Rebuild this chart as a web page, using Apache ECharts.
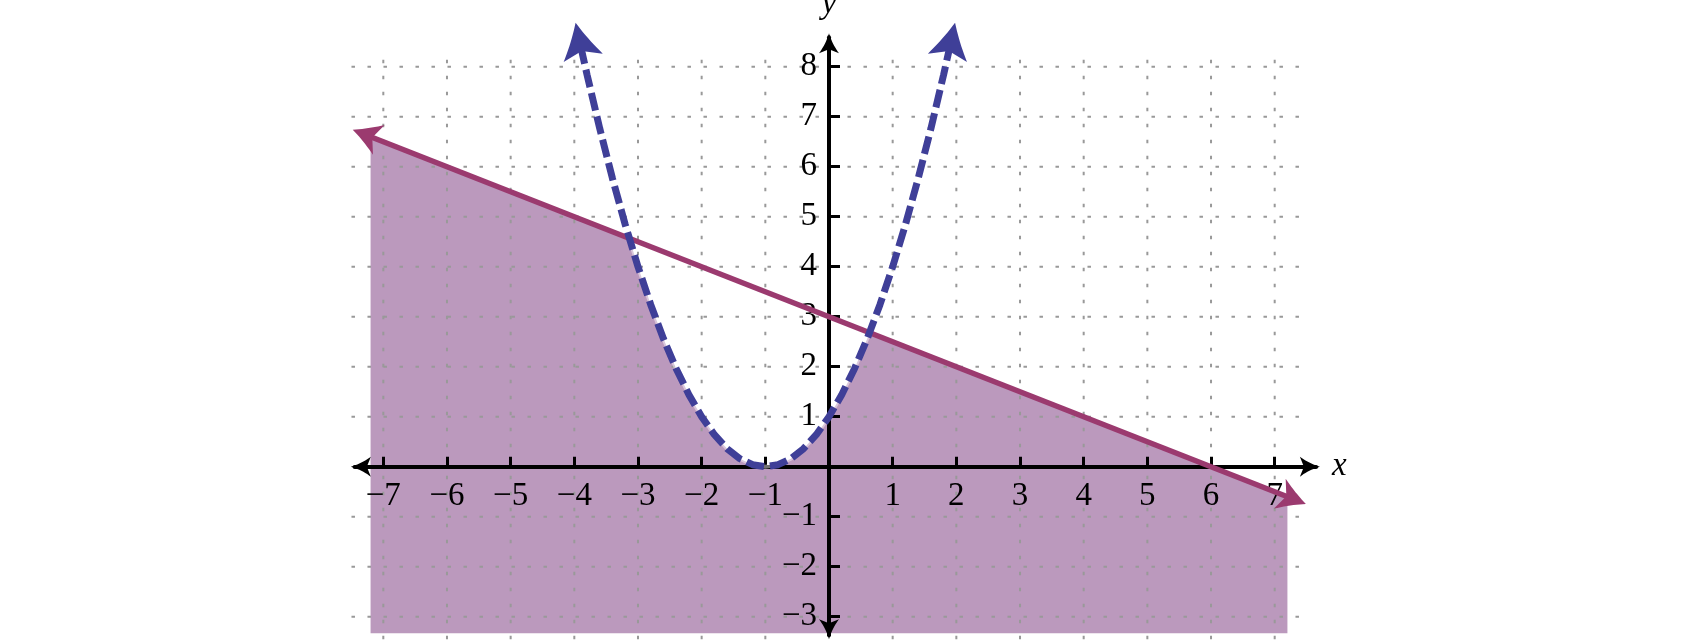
<!DOCTYPE html>
<html><head><meta charset="utf-8">
<script src="https://cdn.jsdelivr.net/npm/echarts@6/dist/echarts.min.js"></script>
<style>html,body{margin:0;padding:0;background:#fff}#c{width:1700px;height:640px}</style>
</head><body><div id="c"></div>
<script>
// ---- data ----
const X_TICKS = [-7, -6, -5, -4, -3, -2, -1, 1, 2, 3, 4, 5, 6, 7];
const Y_TICKS = [-3, -2, -1, 1, 2, 3, 4, 5, 6, 7, 8];
const X_RANGE = [-7.45, 7.65];
const Y_RANGE = [-3.37, 8.59];
const GRID_X_SPAN = [-7.5, 7.5];
const GRID_Y_SPAN = [-3.45, 8.3];
// boundary line y = -x/2 + 3
const LINE_PTS = [[-7.3, 6.65], [7.3, -0.65]];
const LINE_ARROWS = [[-7.48, 6.74, -7.2, 6.6], [7.49, -0.745, 7.2, -0.6]];
// dashed parabola y = (x+1)^2
const PARAB_X = [-3.9, -3.8, -3.6, -3.4, -3.2, -3.0, -2.8, -2.6, -2.4, -2.2, -2.0, -1.8, -1.6, -1.4, -1.2, -1.0,
  -0.8, -0.6, -0.4, -0.2, 0, 0.2, 0.4, 0.6, 0.8, 1.0, 1.2, 1.4, 1.6, 1.8, 1.9];
const PARAB_Y = [8.41, 7.84, 6.76, 5.76, 4.84, 4, 3.24, 2.56, 1.96, 1.44, 1, 0.64, 0.36, 0.16, 0.04, 0,
  0.04, 0.16, 0.36, 0.64, 1, 1.44, 1.96, 2.56, 3.24, 4, 4.84, 5.76, 6.76, 7.84, 8.41];
const PARAB_ARROWS = [[-3.98, 8.8804, -3.9, 8.41], [1.98, 8.8804, 1.9, 8.41]];
const AXIS_ARROWS = [[-7.51, 0, -7.3, 0], [7.71, 0, 7.5, 0], [0, 8.67, 0, 8.4], [0, -3.45, 0, -3.2]];
// shaded region
const FILL_CORNERS = [[-7.2, -3.33], [-7.2, 6.6], [7.2, -0.6], [7.2, -3.33]];
const CROSSINGS = [[-3.1375, 4.569], [0.6375, 2.681]];

// ---- styles ----
const C_LINE = '#9b3a6f', C_PARAB = '#3f3f98', C_FILL = '#bb99bd', C_GRID = '#999999';
const FONT = '"Liberation Serif", "Times New Roman", Times, serif';
const FS = 33;

const fillPoly = [FILL_CORNERS[0], FILL_CORNERS[1], CROSSINGS[0]];
PARAB_X.forEach((x, i) => { if (x > CROSSINGS[0][0] && x < CROSSINGS[1][0]) fillPoly.push([x, PARAB_Y[i]]); });
fillPoly.push(CROSSINGS[1], FILL_CORNERS[2], FILL_CORNERS[3]);

const gridLines = [];
Y_TICKS.forEach(y => gridLines.push([GRID_X_SPAN[0], y, GRID_X_SPAN[1], y]));
X_TICKS.forEach(x => gridLines.push([x, GRID_Y_SPAN[0], x, GRID_Y_SPAN[1]]));

function makeArrow(color, L, W, N, cu, cv) {
  return function (params, api) {
    const t = api.coord([api.value(0), api.value(1)]);
    const f = api.coord([api.value(2), api.value(3)]);
    let dx = t[0] - f[0], dy = t[1] - f[1];
    const len = Math.hypot(dx, dy) || 1; dx /= len; dy /= len;
    const nx = -dy, ny = dx;
    const P = (u, v) => [t[0] - dx * u + nx * v, t[1] - dy * u + ny * v];
    const side = [];
    const a = [0, 0], c = [cu * L, cv * W], b = [L, W];
    for (let i = 0; i <= 10; i++) {
      const k = i / 10;
      side.push([(1 - k) * (1 - k) * a[0] + 2 * (1 - k) * k * c[0] + k * k * b[0],
                 (1 - k) * (1 - k) * a[1] + 2 * (1 - k) * k * c[1] + k * k * b[1]]);
    }
    const pts = side.map(p => P(p[0], p[1]));
    pts.push(P(N, 0));
    for (let i = side.length - 1; i >= 1; i--) pts.push(P(side[i][0], -side[i][1]));
    return { type: 'polygon', shape: { points: pts }, style: { fill: color } };
  };
}

const fmt = v => String(v).replace('-', '\u2212');

const chart = echarts.init(document.getElementById('c'), null, { renderer: 'canvas' });
const sx = 63.67, sy = 50, x0 = 829, y0 = 466.7;
const hiddenLabel = { show: false };
chart.setOption({
  animation: false,
  backgroundColor: '#fff',
  grid: {
    left: x0 + X_RANGE[0] * sx,
    top: y0 - Y_RANGE[1] * sy,
    width: (X_RANGE[1] - X_RANGE[0]) * sx,
    height: (Y_RANGE[1] - Y_RANGE[0]) * sy,
    containLabel: false,
    outerBoundsMode: 'none'
  },
  xAxis: {
    type: 'value', min: X_RANGE[0], max: X_RANGE[1],
    axisLine: { onZero: true, lineStyle: { color: '#000', width: 4 } },
    axisTick: { show: true, inside: true, length: 10, customValues: X_TICKS, lineStyle: { color: '#000', width: 3 } },
    axisLabel: hiddenLabel,
    splitLine: { show: false },
    name: 'x', nameLocation: 'end', nameGap: 16,
    nameTextStyle: { fontFamily: FONT, fontStyle: 'italic', fontSize: FS, color: '#000', verticalAlign: 'middle', align: 'left' }
  },
  yAxis: {
    type: 'value', min: Y_RANGE[0], max: Y_RANGE[1],
    axisLine: { onZero: true, lineStyle: { color: '#000', width: 4 } },
    axisTick: { show: true, inside: true, length: 11, customValues: Y_TICKS, lineStyle: { color: '#000', width: 3 } },
    axisLabel: hiddenLabel,
    splitLine: { show: false },
    name: 'y', nameLocation: 'end', nameGap: 16,
    nameTextStyle: { fontFamily: FONT, fontStyle: 'italic', fontSize: FS, color: '#000', align: 'center' }
  },
  series: [
    {
      type: 'custom', z: -2, clip: false, silent: true, data: [[0, 0]],
      renderItem: (p, api) => ({
        type: 'polygon',
        shape: { points: fillPoly.map(pt => api.coord(pt)) },
        style: { fill: C_FILL }
      })
    },
    {
      type: 'custom', z: -1, clip: false, silent: true, data: gridLines,
      renderItem: (p, api) => {
        const a = api.coord([api.value(0), api.value(1)]);
        const b = api.coord([api.value(2), api.value(3)]);
        return { type: 'line', shape: { x1: a[0], y1: a[1], x2: b[0], y2: b[1] },
          style: { stroke: C_GRID, lineWidth: 2, lineDash: [3.5, 12.5] } };
      }
    },
    {
      // x tick labels
      type: 'custom', z: 1, clip: false, silent: true, data: X_TICKS.map(x => [x, 0]),
      renderItem: (p, api) => {
        const c = api.coord([api.value(0), api.value(1)]);
        return { type: 'text', x: c[0], y: c[1] + 30,
          style: { text: fmt(api.value(0)), fill: '#000', fontFamily: FONT, fontSize: FS, align: 'center', verticalAlign: 'middle' } };
      }
    },
    {
      // y tick labels
      type: 'custom', z: 1, clip: false, silent: true, data: Y_TICKS.map(y => [0, y]),
      renderItem: (p, api) => {
        const c = api.coord([api.value(0), api.value(1)]);
        return { type: 'text', x: c[0] - 12, y: c[1],
          style: { text: fmt(api.value(1)), fill: '#000', fontFamily: FONT, fontSize: FS, align: 'right', verticalAlign: 'middle' } };
      }
    },
    {
      type: 'custom', z: 3, clip: false, silent: true, data: AXIS_ARROWS,
      renderItem: makeArrow('#000', 20, 10, 16, 0.55, 0.32)
    },
    {
      type: 'line', z: 4, silent: true, symbol: 'none', data: LINE_PTS,
      lineStyle: { color: C_LINE, width: 5.5 }
    },
    {
      type: 'line', z: 4, silent: true, symbol: 'none',
      data: PARAB_X.map((x, i) => [x, PARAB_Y[i]]),
      lineStyle: { color: '#fff', width: 4, opacity: 0.45 }
    },
    {
      type: 'line', z: 5, silent: true, symbol: 'none',
      data: PARAB_X.map((x, i) => [x, PARAB_Y[i]]),
      lineStyle: { color: C_PARAB, width: 7, type: [18, 6], cap: 'butt' }
    },
    {
      type: 'custom', z: 6, clip: false, silent: true, data: LINE_ARROWS,
      renderItem: makeArrow(C_LINE, 28, 16, 21, 0.5, 0.4)
    },
    {
      type: 'custom', z: 6, clip: false, silent: true, data: PARAB_ARROWS,
      renderItem: makeArrow(C_PARAB, 36, 20, 29, 0.5, 0.4)
    }
  ]
});
</script></body></html>
